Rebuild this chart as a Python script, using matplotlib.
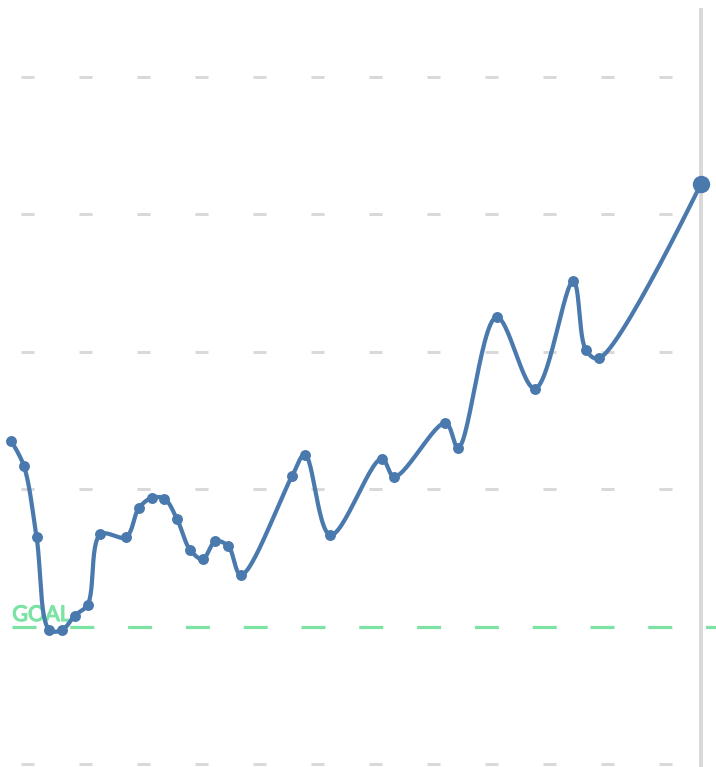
import numpy as np
import matplotlib
matplotlib.use("Agg")
import matplotlib.pyplot as plt
import matplotlib.patheffects as pe

# day index and value (grid step = 10, goal = 10)
days = [0, 1, 2, 3, 4, 5, 6, 7, 9, 10, 11, 12, 13, 14, 15, 16, 17, 18,
        22, 23, 25, 29, 30, 34, 35, 38, 41, 44, 45, 46, 54]
values = [23.5, 21.7, 16.5, 9.75, 9.75, 10.8, 11.6, 16.7, 16.5, 18.6, 19.35,
          19.3, 17.8, 15.6, 14.9, 16.2, 15.85, 13.75, 20.95, 22.5, 16.65,
          22.2, 20.9, 24.8, 23.0, 32.5, 27.3, 35.1, 30.1, 29.5, 42.2]
grid_values = [0, 20, 30, 40, 50]
goal = 10

LINE = "#4a79ae"
GREEN = "#7de3a5"
GREY = "#d9d9d9"
PX = 0.72  # points per pixel at dpi 100
XS = 690 / 54   # pixels per day
YS = 13.75      # pixels per value unit

plt.rcParams["lines.scale_dashes"] = False


def catmull_rom(x, y, alpha=0.5, n=30):
    # centripetal catmull-rom (like d3.curveCatmullRom), done in pixel space
    P = np.column_stack([np.asarray(x, float) * XS, np.asarray(y, float) * YS])
    m = len(P)
    u = np.linspace(0, 1, n)
    out = []
    for i in range(m - 1):
        p0 = P[i - 1] if i > 0 else P[i]
        p1, p2 = P[i], P[i + 1]
        p3 = P[i + 2] if i + 2 < m else P[i + 1]
        l01 = np.linalg.norm(p1 - p0) ** alpha
        l12 = np.linalg.norm(p2 - p1) ** alpha
        l23 = np.linalg.norm(p3 - p2) ** alpha
        c1, c2 = p1.copy(), p2.copy()
        if l01 > 1e-12:
            a = 2 * l01 ** 2 + 3 * l01 * l12 + l12 ** 2
            k = 3 * l01 * (l01 + l12)
            c1 = (p1 * a - p0 * l12 ** 2 + p2 * l01 ** 2) / k
        if l23 > 1e-12:
            b = 2 * l23 ** 2 + 3 * l23 * l12 + l12 ** 2
            k = 3 * l23 * (l23 + l12)
            c2 = (p2 * b + p1 * l23 ** 2 - p3 * l12 ** 2) / k
        B = (np.outer((1 - u) ** 3, p1) + np.outer(3 * u * (1 - u) ** 2, c1)
             + np.outer(3 * u ** 2 * (1 - u), c2) + np.outer(u ** 3, p2))
        out.append(B)
    out = np.vstack(out)
    return out[:, 0] / XS, out[:, 1] / YS


fig = plt.figure(figsize=(7.16, 7.67), dpi=100)
ax = fig.add_axes([0, 0, 1, 1])
ax.set_xlim(-11 / XS, 54 + 15 / XS)
ax.set_ylim(-3 / YS, 764 / YS)
ax.axis("off")

for g in grid_values:
    ax.axhline(g, color=GREY, lw=3 * PX,
               linestyle=(37 * PX, (13 * PX, 45 * PX)), zorder=1)

ax.axhline(goal, color=GREEN, lw=3.2 * PX,
           linestyle=(45.8 * PX, (24 * PX, 33.8 * PX)), zorder=2)
ax.text(0.1, goal + 0.4, "GOAL", color=GREEN, fontsize=15.5,
        family="Lato", ha="left", va="baseline", zorder=2,
        path_effects=[pe.withStroke(linewidth=0.9, foreground=GREEN)])

ax.axvline(days[-1], ymin=0, ymax=1 - 10 / 767, color=GREY, lw=4 * PX, zorder=1)

cx, cy = catmull_rom(days, values)
ax.plot(cx, cy, color=LINE, lw=4.2 * PX, solid_capstyle="round",
        solid_joinstyle="round", zorder=3)
ax.plot(days[:-1], values[:-1], "o", color=LINE, ms=9.5 * PX, zorder=4)
ax.plot(days[-1], values[-1], "o", color=LINE, ms=16 * PX, zorder=4)

plt.savefig("out.png", dpi=100)
